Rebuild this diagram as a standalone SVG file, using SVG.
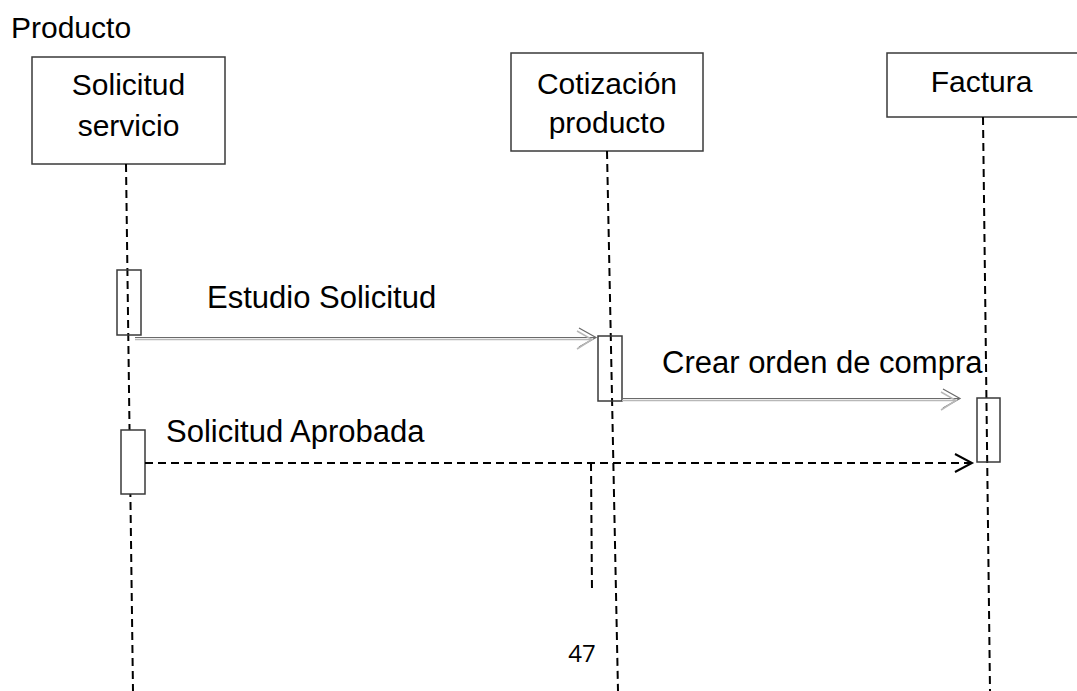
<svg xmlns="http://www.w3.org/2000/svg" width="1077" height="691" viewBox="0 0 1077 691">
<style>
text{font-family:"Liberation Sans",Arial,sans-serif;fill:#000}
.t{font-size:30px}
.m{font-size:31px}
.box{fill:#fff;stroke:#3a3a3a;stroke-width:1.5}
.act{fill:none;stroke:#3a3a3a;stroke-width:1.5}
.actw{fill:#fff;stroke:#3a3a3a;stroke-width:1.5}
.life{stroke:#000;stroke-width:2;stroke-dasharray:8 5;fill:none}
.dash{stroke:#000;stroke-width:2;stroke-dasharray:8 5;fill:none}
.g1{stroke:#6a6a6a;stroke-width:1.2;fill:none}
.g2{stroke:#b8b8b8;stroke-width:1.5;fill:none}
</style>
<rect width="1077" height="691" fill="#fff"/>
<text class="t" x="11" y="38">Producto</text>

<g id="node-solicitud">
<rect class="box" x="32" y="57" width="193" height="107"/>
<text class="t" x="128.5" y="95" text-anchor="middle">Solicitud</text>
<text class="t" x="128.5" y="136" text-anchor="middle">servicio</text>
</g>
<g id="node-cotizacion">
<rect class="box" x="511" y="53" width="192" height="98"/>
<text class="t" x="607" y="94" text-anchor="middle">Cotización</text>
<text class="t" x="607" y="133" text-anchor="middle">producto</text>
</g>
<g id="node-factura">
<rect class="box" x="887" y="53" width="200" height="64"/>
<text class="t" x="981.5" y="92" text-anchor="middle">Factura</text>
</g>

<g id="lifelines">
<line class="life" x1="126" y1="164" x2="133" y2="691"/>
<line class="life" x1="607" y1="151" x2="618" y2="691"/>
<line class="life" x1="983" y1="117" x2="990" y2="691"/>
</g>

<g id="activations">
<rect class="act" x="117" y="270" width="24" height="65"/>
<rect class="act" x="598" y="336" width="24" height="65"/>
<rect class="act" x="977" y="398" width="23" height="64"/>
<rect class="actw" x="121" y="430" width="24" height="64"/>
</g>

<g id="connectors">
<line class="g1" x1="135" y1="337.5" x2="596" y2="337.5"/>
<line class="g2" x1="135" y1="339.5" x2="592" y2="339.5"/>
<polyline class="g1" points="579,328 596,337.5 579,347"/>
<polyline class="g2" points="577,331 592,339.5 577,349"/>

<line class="g1" x1="622" y1="398.5" x2="960" y2="398.5"/>
<line class="g2" x1="622" y1="400.5" x2="956" y2="400.5"/>
<polyline class="g1" points="943,389 960,398.5 943,408"/>
<polyline class="g2" points="941,392 956,400.5 941,410"/>

<line class="dash" x1="145" y1="463" x2="970" y2="463"/>
<polyline fill="none" stroke="#000" stroke-width="2" points="955,454 972,463 955,472"/>
<line class="dash" x1="591" y1="463" x2="592" y2="593"/>
</g>

<text class="m" x="207" y="308">Estudio Solicitud</text>
<text class="m" x="662" y="373">Crear orden de compra</text>
<text class="m" x="166" y="442">Solicitud Aprobada</text>
<text x="582" y="662" text-anchor="middle" style="font-family:'Open Sans','Liberation Sans',sans-serif;font-size:24px">47</text>
</svg>
